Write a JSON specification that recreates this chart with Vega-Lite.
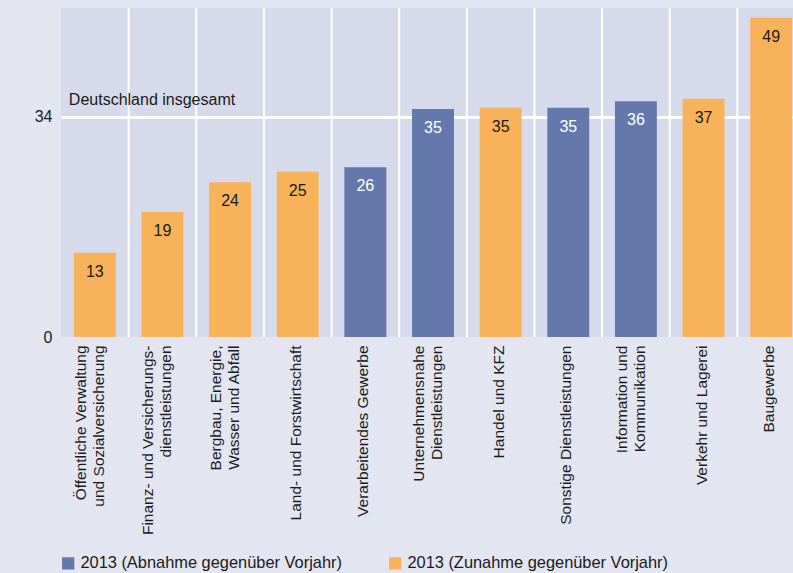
{
  "$schema": "https://vega.github.io/schema/vega-lite/v6.json",
  "width": 744,
  "height": 329,
  "autosize": {"type": "none"},
  "padding": {"left": 61, "top": 8, "right": 0, "bottom": 236},
  "background": "#e3e5f1",
  "config": {
    "view": {"fill": "#d7daeb", "stroke": null},
    "font": "Liberation Sans"
  },
  "data": {
    "values": [
      {"cat": "Öffentliche Verwaltung\nund Sozialversicherung", "value": 13.0, "label": "13", "typ": "2013 (Zunahme gegenüber Vorjahr)"},
      {"cat": "Finanz- und Versicherungs-\ndienstleistungen", "value": 19.3, "label": "19", "typ": "2013 (Zunahme gegenüber Vorjahr)"},
      {"cat": "Bergbau, Energie,\nWasser und Abfall", "value": 23.9, "label": "24", "typ": "2013 (Zunahme gegenüber Vorjahr)"},
      {"cat": "Land- und Forstwirtschaft", "value": 25.5, "label": "25", "typ": "2013 (Zunahme gegenüber Vorjahr)"},
      {"cat": "Verarbeitendes Gewerbe", "value": 26.2, "label": "26", "typ": "2013 (Abnahme gegenüber Vorjahr)"},
      {"cat": "Unternehmensnahe\nDienstleistungen", "value": 35.2, "label": "35", "typ": "2013 (Abnahme gegenüber Vorjahr)"},
      {"cat": "Handel und KFZ", "value": 35.4, "label": "35", "typ": "2013 (Zunahme gegenüber Vorjahr)"},
      {"cat": "Sonstige Dienstleistungen", "value": 35.4, "label": "35", "typ": "2013 (Abnahme gegenüber Vorjahr)"},
      {"cat": "Information und\nKommunikation", "value": 36.4, "label": "36", "typ": "2013 (Abnahme gegenüber Vorjahr)"},
      {"cat": "Verkehr und Lagerei", "value": 36.8, "label": "37", "typ": "2013 (Zunahme gegenüber Vorjahr)"},
      {"cat": "Baugewerbe", "value": 49.3, "label": "49", "typ": "2013 (Zunahme gegenüber Vorjahr)"}
    ]
  },
  "layer": [
    {
      "mark": {"type": "rule", "color": "white", "strokeWidth": 2},
      "encoding": {
        "x": {"field": "cat", "type": "nominal", "sort": null, "bandPosition": 1.3065}
      }
    },
    {
      "mark": {"type": "bar"},
      "encoding": {
        "x": {
          "field": "cat", "type": "nominal", "sort": null,
          "scale": {"paddingInner": 0.38, "paddingOuter": 0.19},
          "axis": {
            "title": null, "domain": false, "ticks": false,
            "labelAngle": -90, "labelAlign": "right", "labelBaseline": "middle",
            "labelPadding": 8, "labelFontSize": 15.5, "labelLineHeight": 18,
            "labelColor": "#1a1a1a", "labelLimit": 300,
            "labelExpr": "split(datum.label, '\\n')",
            "labelOffset": {"condition": {"test": "indexof(datum.value, '\\n') >= 0", "value": -14}, "value": -2},
            "grid": false
          }
        },
        "y": {
          "field": "value", "type": "quantitative",
          "scale": {"domain": [0, 50.8], "nice": false},
          "axis": {
            "title": null, "values": [0, 34], "domain": false, "ticks": false,
            "labelFontSize": 16, "labelColor": "#1a1a1a", "labelPadding": 9,
            "grid": true, "gridWidth": 3,
            "gridColor": {"condition": {"test": "datum.value === 34", "value": "white"}, "value": "transparent"}
          }
        },
        "color": {
          "field": "typ", "type": "nominal",
          "scale": {
            "domain": ["2013 (Abnahme gegenüber Vorjahr)", "2013 (Zunahme gegenüber Vorjahr)"],
            "range": ["#6478ab", "#f8b35a"]
          },
          "legend": {
            "orient": "none", "legendX": -1, "legendY": 547, "direction": "horizontal",
            "title": null, "symbolType": "square", "symbolSize": 150, "symbolStrokeWidth": 0,
            "labelFontSize": 16.4, "labelColor": "#1a1a1a", "columnPadding": 45, "labelLimit": 400
          }
        }
      }
    },
    {
      "mark": {"type": "text", "baseline": "middle", "dy": 19, "fontSize": 16},
      "encoding": {
        "x": {"field": "cat", "type": "nominal", "sort": null},
        "y": {"field": "value", "type": "quantitative"},
        "text": {"field": "label"},
        "color": {
          "condition": {"test": "datum.typ === '2013 (Abnahme gegenüber Vorjahr)'", "value": "white"},
          "value": "#1a1a1a"
        }
      }
    },
    {
      "transform": [{"filter": "datum.label === '13'"}],
      "mark": {"type": "text", "align": "left", "baseline": "alphabetic", "dx": -5, "dy": -12, "fontSize": 16, "color": "#1a1a1a"},
      "encoding": {
        "x": {"field": "cat", "type": "nominal", "sort": null, "bandPosition": 0},
        "y": {"datum": 34, "type": "quantitative"},
        "text": {"value": "Deutschland insgesamt"}
      }
    }
  ]
}
